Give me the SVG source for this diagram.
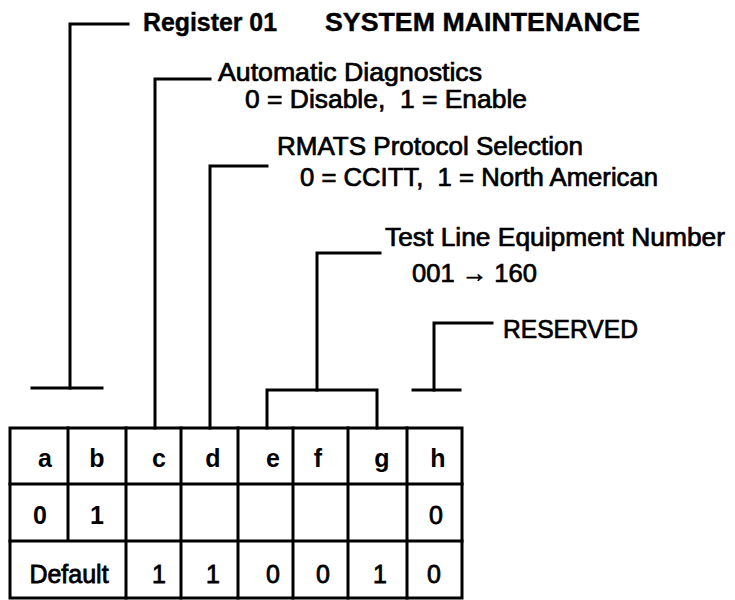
<svg xmlns="http://www.w3.org/2000/svg" width="735" height="600" viewBox="0 0 735 600">
<style>
text{font-family:"Liberation Sans",Arial,Helvetica,sans-serif;fill:#000}
.t{font-size:25px;font-weight:bold;stroke:#000;stroke-width:0.4}
.l{font-size:25px;stroke:#000;stroke-width:0.7}
.h{font-size:25px;font-weight:bold;text-anchor:middle}
.m{font-size:25px;text-anchor:middle;stroke:#000;stroke-width:0.8}
.ln{fill:none;stroke:#000;stroke-width:3;stroke-linecap:square}
</style>
<rect width="735" height="600" fill="#fff"/>
<g id="connectors">
<path class="ln" d="M128 24H70V388"/>
<path class="ln" d="M32 388H102"/>
<path class="ln" d="M210 79H155V428"/>
<path class="ln" d="M267 166H210V428"/>
<path class="ln" d="M380 253H317V390"/>
<path class="ln" d="M267 428V390H377V428"/>
<path class="ln" d="M492 323H434V390"/>
<path class="ln" d="M413 390H460"/>
</g>
<g id="title">
<text class="t" x="143" y="31" textLength="134" lengthAdjust="spacingAndGlyphs">Register 01</text>
<text class="t" x="325" y="31" textLength="315" lengthAdjust="spacingAndGlyphs">SYSTEM MAINTENANCE</text>
</g>
<g id="auto-diag">
<text class="l" x="218" y="81" textLength="264" lengthAdjust="spacingAndGlyphs">Automatic Diagnostics</text>
<text class="l" x="245" y="108" textLength="282" lengthAdjust="spacingAndGlyphs" xml:space="preserve">0 = Disable,  1 = Enable</text>
</g>
<g id="rmats">
<text class="l" x="277" y="155" textLength="306" lengthAdjust="spacingAndGlyphs">RMATS Protocol Selection</text>
<text class="l" x="300" y="186" textLength="358" lengthAdjust="spacingAndGlyphs" xml:space="preserve">0 = CCITT,  1 = North American</text>
</g>
<g id="test-line">
<text class="l" x="385" y="246" textLength="340" lengthAdjust="spacingAndGlyphs">Test Line Equipment Number</text>
<text class="l" x="412" y="282" textLength="125" lengthAdjust="spacingAndGlyphs">001 → 160</text>
</g>
<g id="reserved">
<text class="l" x="503" y="338" textLength="135" lengthAdjust="spacingAndGlyphs">RESERVED</text>
</g>
<g id="table">
<rect class="ln" x="10" y="428" width="452" height="170"/>
<path class="ln" d="M10 484H462M10 541H462M68 428V541M126 428V598M181 428V598M238 428V598M293 428V598M348 428V598M407 428V598"/>
<text class="h" x="45" y="467">a</text>
<text class="h" x="97" y="467">b</text>
<text class="h" x="159" y="467">c</text>
<text class="h" x="213" y="467">d</text>
<text class="h" x="273" y="467">e</text>
<text class="h" x="318" y="467">f</text>
<text class="h" x="382" y="467">g</text>
<text class="h" x="438" y="467">h</text>
<text class="h" x="40" y="524">0</text>
<text class="h" x="97" y="524">1</text>
<text class="m" x="436" y="524">0</text>
<text class="m" x="69" y="583">Default</text>
<text class="m" x="159" y="583">1</text>
<text class="m" x="213" y="583">1</text>
<text class="m" x="273" y="583">0</text>
<text class="m" x="323" y="583">0</text>
<text class="m" x="380" y="583">1</text>
<text class="m" x="434" y="583">0</text>
</g>
</svg>
